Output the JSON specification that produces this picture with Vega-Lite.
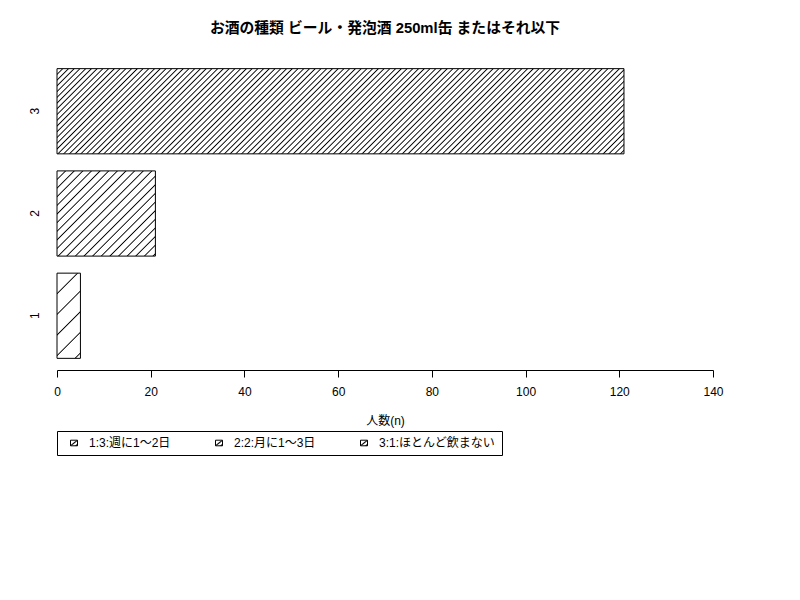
{
  "$schema": "https://vega.github.io/schema/vega-lite/v6.json",
  "autosize": "none",
  "padding": {"left": 57, "top": 57, "right": 87, "bottom": 230},
  "width": 656,
  "height": 313,
  "background": "white",
  "title": {"text": "お酒の種類 ビール・発泡酒 250ml缶 またはそれ以下", "fontSize": 14.8, "fontWeight": "bold", "offset": 21, "anchor": "middle", "color": "black"},
  "data": {
    "values": [
      {"group": "1", "label": "1:3:週に1～2日", "n": 5},
      {"group": "2", "label": "2:2:月に1～3日", "n": 21},
      {"group": "3", "label": "3:1:ほとんど飲まない", "n": 121}
    ]
  },
  "encoding": {
    "x": {
      "field": "n", "type": "quantitative",
      "scale": {"domain": [0, 140], "nice": false},
      "axis": {"title": "人数(n)", "values": [0, 20, 40, 60, 80, 100, 120, 140], "grid": false, "labelFlush": false, "tickSize": 7, "labelPadding": 9, "titlePadding": 18, "titleFontWeight": "normal", "titleFontSize": 12, "labelFontSize": 12, "domainColor": "black", "tickColor": "black", "labelColor": "black", "titleColor": "black"}
    },
    "y": {
      "field": "group", "type": "nominal", "sort": "descending",
      "scale": {"paddingInner": 0.1667, "paddingOuter": 0.114},
      "axis": {"title": null, "domain": false, "ticks": false, "tickSize": 0, "labelAngle": -90, "labelAlign": "center", "labelBaseline": "bottom", "labelPadding": 16, "labelFontSize": 12, "labelColor": "black"}
    }
  },
  "layer": [
    {
      "transform": [{"filter": "datum.group == '1'"}],
      "mark": {"type": "bar", "stroke": "black", "strokeWidth": 1, "fill": {"gradient": "linear", "x1": 0, "y1": 0, "x2": 0.326, "y2": 1.1854, "stops": [
        {"offset": 0.178, "color": "#fff"}, {"offset": 0.19, "color": "#000"}, {"offset": 0.202, "color": "#fff"},
        {"offset": 0.368, "color": "#fff"}, {"offset": 0.38, "color": "#000"}, {"offset": 0.392, "color": "#fff"},
        {"offset": 0.558, "color": "#fff"}, {"offset": 0.57, "color": "#000"}, {"offset": 0.582, "color": "#fff"},
        {"offset": 0.748, "color": "#fff"}, {"offset": 0.76, "color": "#000"}, {"offset": 0.772, "color": "#fff"},
        {"offset": 0.938, "color": "#fff"}, {"offset": 0.95, "color": "#000"}, {"offset": 0.962, "color": "#fff"}
      ]}}
    },
    {
      "transform": [{"filter": "datum.group == '2'"}],
      "mark": {"type": "bar", "stroke": "black", "strokeWidth": 1, "fill": {"gradient": "linear", "x1": 0, "y1": 0, "x2": 1.0664, "y2": 0.9233, "stops": [
        {"offset": 0.04, "color": "#fff"}, {"offset": 0.047, "color": "#000"}, {"offset": 0.054, "color": "#fff"},
        {"offset": 0.087, "color": "#fff"}, {"offset": 0.094, "color": "#000"}, {"offset": 0.101, "color": "#fff"},
        {"offset": 0.134, "color": "#fff"}, {"offset": 0.141, "color": "#000"}, {"offset": 0.148, "color": "#fff"},
        {"offset": 0.181, "color": "#fff"}, {"offset": 0.188, "color": "#000"}, {"offset": 0.195, "color": "#fff"},
        {"offset": 0.228, "color": "#fff"}, {"offset": 0.235, "color": "#000"}, {"offset": 0.242, "color": "#fff"},
        {"offset": 0.275, "color": "#fff"}, {"offset": 0.282, "color": "#000"}, {"offset": 0.289, "color": "#fff"},
        {"offset": 0.322, "color": "#fff"}, {"offset": 0.329, "color": "#000"}, {"offset": 0.336, "color": "#fff"},
        {"offset": 0.369, "color": "#fff"}, {"offset": 0.376, "color": "#000"}, {"offset": 0.383, "color": "#fff"},
        {"offset": 0.416, "color": "#fff"}, {"offset": 0.423, "color": "#000"}, {"offset": 0.43, "color": "#fff"},
        {"offset": 0.463, "color": "#fff"}, {"offset": 0.47, "color": "#000"}, {"offset": 0.477, "color": "#fff"},
        {"offset": 0.51, "color": "#fff"}, {"offset": 0.517, "color": "#000"}, {"offset": 0.524, "color": "#fff"},
        {"offset": 0.557, "color": "#fff"}, {"offset": 0.564, "color": "#000"}, {"offset": 0.571, "color": "#fff"},
        {"offset": 0.604, "color": "#fff"}, {"offset": 0.611, "color": "#000"}, {"offset": 0.618, "color": "#fff"},
        {"offset": 0.651, "color": "#fff"}, {"offset": 0.658, "color": "#000"}, {"offset": 0.665, "color": "#fff"},
        {"offset": 0.698, "color": "#fff"}, {"offset": 0.705, "color": "#000"}, {"offset": 0.712, "color": "#fff"},
        {"offset": 0.745, "color": "#fff"}, {"offset": 0.752, "color": "#000"}, {"offset": 0.759, "color": "#fff"},
        {"offset": 0.792, "color": "#fff"}, {"offset": 0.799, "color": "#000"}, {"offset": 0.806, "color": "#fff"},
        {"offset": 0.839, "color": "#fff"}, {"offset": 0.846, "color": "#000"}, {"offset": 0.853, "color": "#fff"},
        {"offset": 0.886, "color": "#fff"}, {"offset": 0.893, "color": "#000"}, {"offset": 0.9, "color": "#fff"},
        {"offset": 0.933, "color": "#fff"}, {"offset": 0.94, "color": "#000"}, {"offset": 0.947, "color": "#fff"},
        {"offset": 0.98, "color": "#fff"}, {"offset": 0.987, "color": "#000"}, {"offset": 0.994, "color": "#fff"}
      ]}}
    },
    {
      "transform": [{"filter": "datum.group == '3'"}],
      "mark": {"type": "bar", "stroke": "black", "strokeWidth": 1, "fill": {"gradient": "linear", "x1": 0, "y1": 0, "x2": 1.1249, "y2": 0.169, "stops": [
        {"offset": 0.0068, "color": "#fff"}, {"offset": 0.0088, "color": "#000"}, {"offset": 0.0108, "color": "#fff"},
        {"offset": 0.0156, "color": "#fff"}, {"offset": 0.0176, "color": "#000"}, {"offset": 0.0196, "color": "#fff"},
        {"offset": 0.0244, "color": "#fff"}, {"offset": 0.0264, "color": "#000"}, {"offset": 0.0284, "color": "#fff"},
        {"offset": 0.0332, "color": "#fff"}, {"offset": 0.0352, "color": "#000"}, {"offset": 0.0372, "color": "#fff"},
        {"offset": 0.042, "color": "#fff"}, {"offset": 0.044, "color": "#000"}, {"offset": 0.046, "color": "#fff"},
        {"offset": 0.0508, "color": "#fff"}, {"offset": 0.0528, "color": "#000"}, {"offset": 0.0548, "color": "#fff"},
        {"offset": 0.0596, "color": "#fff"}, {"offset": 0.0616, "color": "#000"}, {"offset": 0.0636, "color": "#fff"},
        {"offset": 0.0684, "color": "#fff"}, {"offset": 0.0704, "color": "#000"}, {"offset": 0.0724, "color": "#fff"},
        {"offset": 0.0772, "color": "#fff"}, {"offset": 0.0792, "color": "#000"}, {"offset": 0.0812, "color": "#fff"},
        {"offset": 0.086, "color": "#fff"}, {"offset": 0.088, "color": "#000"}, {"offset": 0.09, "color": "#fff"},
        {"offset": 0.0948, "color": "#fff"}, {"offset": 0.0968, "color": "#000"}, {"offset": 0.0988, "color": "#fff"},
        {"offset": 0.1036, "color": "#fff"}, {"offset": 0.1056, "color": "#000"}, {"offset": 0.1076, "color": "#fff"},
        {"offset": 0.1124, "color": "#fff"}, {"offset": 0.1144, "color": "#000"}, {"offset": 0.1164, "color": "#fff"},
        {"offset": 0.1212, "color": "#fff"}, {"offset": 0.1232, "color": "#000"}, {"offset": 0.1252, "color": "#fff"},
        {"offset": 0.13, "color": "#fff"}, {"offset": 0.132, "color": "#000"}, {"offset": 0.134, "color": "#fff"},
        {"offset": 0.1388, "color": "#fff"}, {"offset": 0.1408, "color": "#000"}, {"offset": 0.1428, "color": "#fff"},
        {"offset": 0.1476, "color": "#fff"}, {"offset": 0.1496, "color": "#000"}, {"offset": 0.1516, "color": "#fff"},
        {"offset": 0.1564, "color": "#fff"}, {"offset": 0.1584, "color": "#000"}, {"offset": 0.1604, "color": "#fff"},
        {"offset": 0.1652, "color": "#fff"}, {"offset": 0.1672, "color": "#000"}, {"offset": 0.1692, "color": "#fff"},
        {"offset": 0.174, "color": "#fff"}, {"offset": 0.176, "color": "#000"}, {"offset": 0.178, "color": "#fff"},
        {"offset": 0.1828, "color": "#fff"}, {"offset": 0.1848, "color": "#000"}, {"offset": 0.1868, "color": "#fff"},
        {"offset": 0.1916, "color": "#fff"}, {"offset": 0.1936, "color": "#000"}, {"offset": 0.1956, "color": "#fff"},
        {"offset": 0.2004, "color": "#fff"}, {"offset": 0.2024, "color": "#000"}, {"offset": 0.2044, "color": "#fff"},
        {"offset": 0.2092, "color": "#fff"}, {"offset": 0.2112, "color": "#000"}, {"offset": 0.2132, "color": "#fff"},
        {"offset": 0.218, "color": "#fff"}, {"offset": 0.22, "color": "#000"}, {"offset": 0.222, "color": "#fff"},
        {"offset": 0.2268, "color": "#fff"}, {"offset": 0.2288, "color": "#000"}, {"offset": 0.2308, "color": "#fff"},
        {"offset": 0.2356, "color": "#fff"}, {"offset": 0.2376, "color": "#000"}, {"offset": 0.2396, "color": "#fff"},
        {"offset": 0.2444, "color": "#fff"}, {"offset": 0.2464, "color": "#000"}, {"offset": 0.2484, "color": "#fff"},
        {"offset": 0.2532, "color": "#fff"}, {"offset": 0.2552, "color": "#000"}, {"offset": 0.2572, "color": "#fff"},
        {"offset": 0.262, "color": "#fff"}, {"offset": 0.264, "color": "#000"}, {"offset": 0.266, "color": "#fff"},
        {"offset": 0.2708, "color": "#fff"}, {"offset": 0.2728, "color": "#000"}, {"offset": 0.2748, "color": "#fff"},
        {"offset": 0.2796, "color": "#fff"}, {"offset": 0.2816, "color": "#000"}, {"offset": 0.2836, "color": "#fff"},
        {"offset": 0.2884, "color": "#fff"}, {"offset": 0.2904, "color": "#000"}, {"offset": 0.2924, "color": "#fff"},
        {"offset": 0.2972, "color": "#fff"}, {"offset": 0.2992, "color": "#000"}, {"offset": 0.3012, "color": "#fff"},
        {"offset": 0.306, "color": "#fff"}, {"offset": 0.308, "color": "#000"}, {"offset": 0.31, "color": "#fff"},
        {"offset": 0.3148, "color": "#fff"}, {"offset": 0.3168, "color": "#000"}, {"offset": 0.3188, "color": "#fff"},
        {"offset": 0.3236, "color": "#fff"}, {"offset": 0.3256, "color": "#000"}, {"offset": 0.3276, "color": "#fff"},
        {"offset": 0.3324, "color": "#fff"}, {"offset": 0.3344, "color": "#000"}, {"offset": 0.3364, "color": "#fff"},
        {"offset": 0.3412, "color": "#fff"}, {"offset": 0.3432, "color": "#000"}, {"offset": 0.3452, "color": "#fff"},
        {"offset": 0.35, "color": "#fff"}, {"offset": 0.352, "color": "#000"}, {"offset": 0.354, "color": "#fff"},
        {"offset": 0.3588, "color": "#fff"}, {"offset": 0.3608, "color": "#000"}, {"offset": 0.3628, "color": "#fff"},
        {"offset": 0.3676, "color": "#fff"}, {"offset": 0.3696, "color": "#000"}, {"offset": 0.3716, "color": "#fff"},
        {"offset": 0.3764, "color": "#fff"}, {"offset": 0.3784, "color": "#000"}, {"offset": 0.3804, "color": "#fff"},
        {"offset": 0.3852, "color": "#fff"}, {"offset": 0.3872, "color": "#000"}, {"offset": 0.3892, "color": "#fff"},
        {"offset": 0.394, "color": "#fff"}, {"offset": 0.396, "color": "#000"}, {"offset": 0.398, "color": "#fff"},
        {"offset": 0.4028, "color": "#fff"}, {"offset": 0.4048, "color": "#000"}, {"offset": 0.4068, "color": "#fff"},
        {"offset": 0.4116, "color": "#fff"}, {"offset": 0.4136, "color": "#000"}, {"offset": 0.4156, "color": "#fff"},
        {"offset": 0.4204, "color": "#fff"}, {"offset": 0.4224, "color": "#000"}, {"offset": 0.4244, "color": "#fff"},
        {"offset": 0.4292, "color": "#fff"}, {"offset": 0.4312, "color": "#000"}, {"offset": 0.4332, "color": "#fff"},
        {"offset": 0.438, "color": "#fff"}, {"offset": 0.44, "color": "#000"}, {"offset": 0.442, "color": "#fff"},
        {"offset": 0.4468, "color": "#fff"}, {"offset": 0.4488, "color": "#000"}, {"offset": 0.4508, "color": "#fff"},
        {"offset": 0.4556, "color": "#fff"}, {"offset": 0.4576, "color": "#000"}, {"offset": 0.4596, "color": "#fff"},
        {"offset": 0.4644, "color": "#fff"}, {"offset": 0.4664, "color": "#000"}, {"offset": 0.4684, "color": "#fff"},
        {"offset": 0.4732, "color": "#fff"}, {"offset": 0.4752, "color": "#000"}, {"offset": 0.4772, "color": "#fff"},
        {"offset": 0.482, "color": "#fff"}, {"offset": 0.484, "color": "#000"}, {"offset": 0.486, "color": "#fff"},
        {"offset": 0.4908, "color": "#fff"}, {"offset": 0.4928, "color": "#000"}, {"offset": 0.4948, "color": "#fff"},
        {"offset": 0.4996, "color": "#fff"}, {"offset": 0.5016, "color": "#000"}, {"offset": 0.5036, "color": "#fff"},
        {"offset": 0.5084, "color": "#fff"}, {"offset": 0.5104, "color": "#000"}, {"offset": 0.5124, "color": "#fff"},
        {"offset": 0.5172, "color": "#fff"}, {"offset": 0.5192, "color": "#000"}, {"offset": 0.5212, "color": "#fff"},
        {"offset": 0.526, "color": "#fff"}, {"offset": 0.528, "color": "#000"}, {"offset": 0.53, "color": "#fff"},
        {"offset": 0.5348, "color": "#fff"}, {"offset": 0.5368, "color": "#000"}, {"offset": 0.5388, "color": "#fff"},
        {"offset": 0.5436, "color": "#fff"}, {"offset": 0.5456, "color": "#000"}, {"offset": 0.5476, "color": "#fff"},
        {"offset": 0.5524, "color": "#fff"}, {"offset": 0.5544, "color": "#000"}, {"offset": 0.5564, "color": "#fff"},
        {"offset": 0.5612, "color": "#fff"}, {"offset": 0.5632, "color": "#000"}, {"offset": 0.5652, "color": "#fff"},
        {"offset": 0.57, "color": "#fff"}, {"offset": 0.572, "color": "#000"}, {"offset": 0.574, "color": "#fff"},
        {"offset": 0.5788, "color": "#fff"}, {"offset": 0.5808, "color": "#000"}, {"offset": 0.5828, "color": "#fff"},
        {"offset": 0.5876, "color": "#fff"}, {"offset": 0.5896, "color": "#000"}, {"offset": 0.5916, "color": "#fff"},
        {"offset": 0.5964, "color": "#fff"}, {"offset": 0.5984, "color": "#000"}, {"offset": 0.6004, "color": "#fff"},
        {"offset": 0.6052, "color": "#fff"}, {"offset": 0.6072, "color": "#000"}, {"offset": 0.6092, "color": "#fff"},
        {"offset": 0.614, "color": "#fff"}, {"offset": 0.616, "color": "#000"}, {"offset": 0.618, "color": "#fff"},
        {"offset": 0.6228, "color": "#fff"}, {"offset": 0.6248, "color": "#000"}, {"offset": 0.6268, "color": "#fff"},
        {"offset": 0.6316, "color": "#fff"}, {"offset": 0.6336, "color": "#000"}, {"offset": 0.6356, "color": "#fff"},
        {"offset": 0.6404, "color": "#fff"}, {"offset": 0.6424, "color": "#000"}, {"offset": 0.6444, "color": "#fff"},
        {"offset": 0.6492, "color": "#fff"}, {"offset": 0.6512, "color": "#000"}, {"offset": 0.6532, "color": "#fff"},
        {"offset": 0.658, "color": "#fff"}, {"offset": 0.66, "color": "#000"}, {"offset": 0.662, "color": "#fff"},
        {"offset": 0.6668, "color": "#fff"}, {"offset": 0.6688, "color": "#000"}, {"offset": 0.6708, "color": "#fff"},
        {"offset": 0.6756, "color": "#fff"}, {"offset": 0.6776, "color": "#000"}, {"offset": 0.6796, "color": "#fff"},
        {"offset": 0.6844, "color": "#fff"}, {"offset": 0.6864, "color": "#000"}, {"offset": 0.6884, "color": "#fff"},
        {"offset": 0.6932, "color": "#fff"}, {"offset": 0.6952, "color": "#000"}, {"offset": 0.6972, "color": "#fff"},
        {"offset": 0.702, "color": "#fff"}, {"offset": 0.704, "color": "#000"}, {"offset": 0.706, "color": "#fff"},
        {"offset": 0.7108, "color": "#fff"}, {"offset": 0.7128, "color": "#000"}, {"offset": 0.7148, "color": "#fff"},
        {"offset": 0.7196, "color": "#fff"}, {"offset": 0.7216, "color": "#000"}, {"offset": 0.7236, "color": "#fff"},
        {"offset": 0.7284, "color": "#fff"}, {"offset": 0.7304, "color": "#000"}, {"offset": 0.7324, "color": "#fff"},
        {"offset": 0.7372, "color": "#fff"}, {"offset": 0.7392, "color": "#000"}, {"offset": 0.7412, "color": "#fff"},
        {"offset": 0.746, "color": "#fff"}, {"offset": 0.748, "color": "#000"}, {"offset": 0.75, "color": "#fff"},
        {"offset": 0.7548, "color": "#fff"}, {"offset": 0.7568, "color": "#000"}, {"offset": 0.7588, "color": "#fff"},
        {"offset": 0.7636, "color": "#fff"}, {"offset": 0.7656, "color": "#000"}, {"offset": 0.7676, "color": "#fff"},
        {"offset": 0.7724, "color": "#fff"}, {"offset": 0.7744, "color": "#000"}, {"offset": 0.7764, "color": "#fff"},
        {"offset": 0.7812, "color": "#fff"}, {"offset": 0.7832, "color": "#000"}, {"offset": 0.7852, "color": "#fff"},
        {"offset": 0.79, "color": "#fff"}, {"offset": 0.792, "color": "#000"}, {"offset": 0.794, "color": "#fff"},
        {"offset": 0.7988, "color": "#fff"}, {"offset": 0.8008, "color": "#000"}, {"offset": 0.8028, "color": "#fff"},
        {"offset": 0.8076, "color": "#fff"}, {"offset": 0.8096, "color": "#000"}, {"offset": 0.8116, "color": "#fff"},
        {"offset": 0.8164, "color": "#fff"}, {"offset": 0.8184, "color": "#000"}, {"offset": 0.8204, "color": "#fff"},
        {"offset": 0.8252, "color": "#fff"}, {"offset": 0.8272, "color": "#000"}, {"offset": 0.8292, "color": "#fff"},
        {"offset": 0.834, "color": "#fff"}, {"offset": 0.836, "color": "#000"}, {"offset": 0.838, "color": "#fff"},
        {"offset": 0.8428, "color": "#fff"}, {"offset": 0.8448, "color": "#000"}, {"offset": 0.8468, "color": "#fff"},
        {"offset": 0.8516, "color": "#fff"}, {"offset": 0.8536, "color": "#000"}, {"offset": 0.8556, "color": "#fff"},
        {"offset": 0.8604, "color": "#fff"}, {"offset": 0.8624, "color": "#000"}, {"offset": 0.8644, "color": "#fff"},
        {"offset": 0.8692, "color": "#fff"}, {"offset": 0.8712, "color": "#000"}, {"offset": 0.8732, "color": "#fff"},
        {"offset": 0.878, "color": "#fff"}, {"offset": 0.88, "color": "#000"}, {"offset": 0.882, "color": "#fff"},
        {"offset": 0.8868, "color": "#fff"}, {"offset": 0.8888, "color": "#000"}, {"offset": 0.8908, "color": "#fff"},
        {"offset": 0.8956, "color": "#fff"}, {"offset": 0.8976, "color": "#000"}, {"offset": 0.8996, "color": "#fff"},
        {"offset": 0.9044, "color": "#fff"}, {"offset": 0.9064, "color": "#000"}, {"offset": 0.9084, "color": "#fff"},
        {"offset": 0.9132, "color": "#fff"}, {"offset": 0.9152, "color": "#000"}, {"offset": 0.9172, "color": "#fff"},
        {"offset": 0.922, "color": "#fff"}, {"offset": 0.924, "color": "#000"}, {"offset": 0.926, "color": "#fff"},
        {"offset": 0.9308, "color": "#fff"}, {"offset": 0.9328, "color": "#000"}, {"offset": 0.9348, "color": "#fff"},
        {"offset": 0.9396, "color": "#fff"}, {"offset": 0.9416, "color": "#000"}, {"offset": 0.9436, "color": "#fff"},
        {"offset": 0.9484, "color": "#fff"}, {"offset": 0.9504, "color": "#000"}, {"offset": 0.9524, "color": "#fff"},
        {"offset": 0.9572, "color": "#fff"}, {"offset": 0.9592, "color": "#000"}, {"offset": 0.9612, "color": "#fff"},
        {"offset": 0.966, "color": "#fff"}, {"offset": 0.968, "color": "#000"}, {"offset": 0.97, "color": "#fff"},
        {"offset": 0.9748, "color": "#fff"}, {"offset": 0.9768, "color": "#000"}, {"offset": 0.9788, "color": "#fff"},
        {"offset": 0.9836, "color": "#fff"}, {"offset": 0.9856, "color": "#000"}, {"offset": 0.9876, "color": "#fff"},
        {"offset": 0.9924, "color": "#fff"}, {"offset": 0.9944, "color": "#000"}, {"offset": 0.9964, "color": "#fff"}
      ]}}
    },
    {
      "mark": {"type": "point", "opacity": 0},
      "encoding": {
        "shape": {
          "field": "label", "type": "nominal",
          "scale": {"range": ["M-1,-0.8H1V0.8H-1Z", "M-1,-0.8H1V0.8H-1Z", "M-1,-0.8H1V0.8H-1Z"]},
          "legend": {
            "orient": "none", "legendX": 0, "legendY": 374, "direction": "horizontal", "title": null,
            "strokeColor": "black", "padding": 6, "symbolSize": 49, "symbolOpacity": 1,
            "symbolStrokeColor": "black", "symbolStrokeWidth": 1, "symbolOffset": 5, "labelOffset": 9,
            "columnPadding": 37, "gridAlign": "each", "labelFontSize": 12, "labelColor": "black", "labelLimit": 0,
            "encoding": {
              "symbols": {
                "fill": {"value": {"gradient": "linear", "x1": 0, "y1": 0, "x2": 1, "y2": 1, "stops": [
                  {"offset": 0, "color": "#fff"}, {"offset": 0.38, "color": "#fff"}, {"offset": 0.5, "color": "#000"},
                  {"offset": 0.62, "color": "#fff"}, {"offset": 0.74, "color": "#fff"}, {"offset": 0.88, "color": "#000"},
                  {"offset": 1, "color": "#000"}]}},
                "stroke": {"value": "black"},
                "strokeWidth": {"value": 1},
                "opacity": {"value": 1}
              }
            }
          }
        }
      }
    }
  ],
  "config": {
    "font": "Liberation Sans, Noto Sans CJK JP",
    "view": {"stroke": null}
  }
}
